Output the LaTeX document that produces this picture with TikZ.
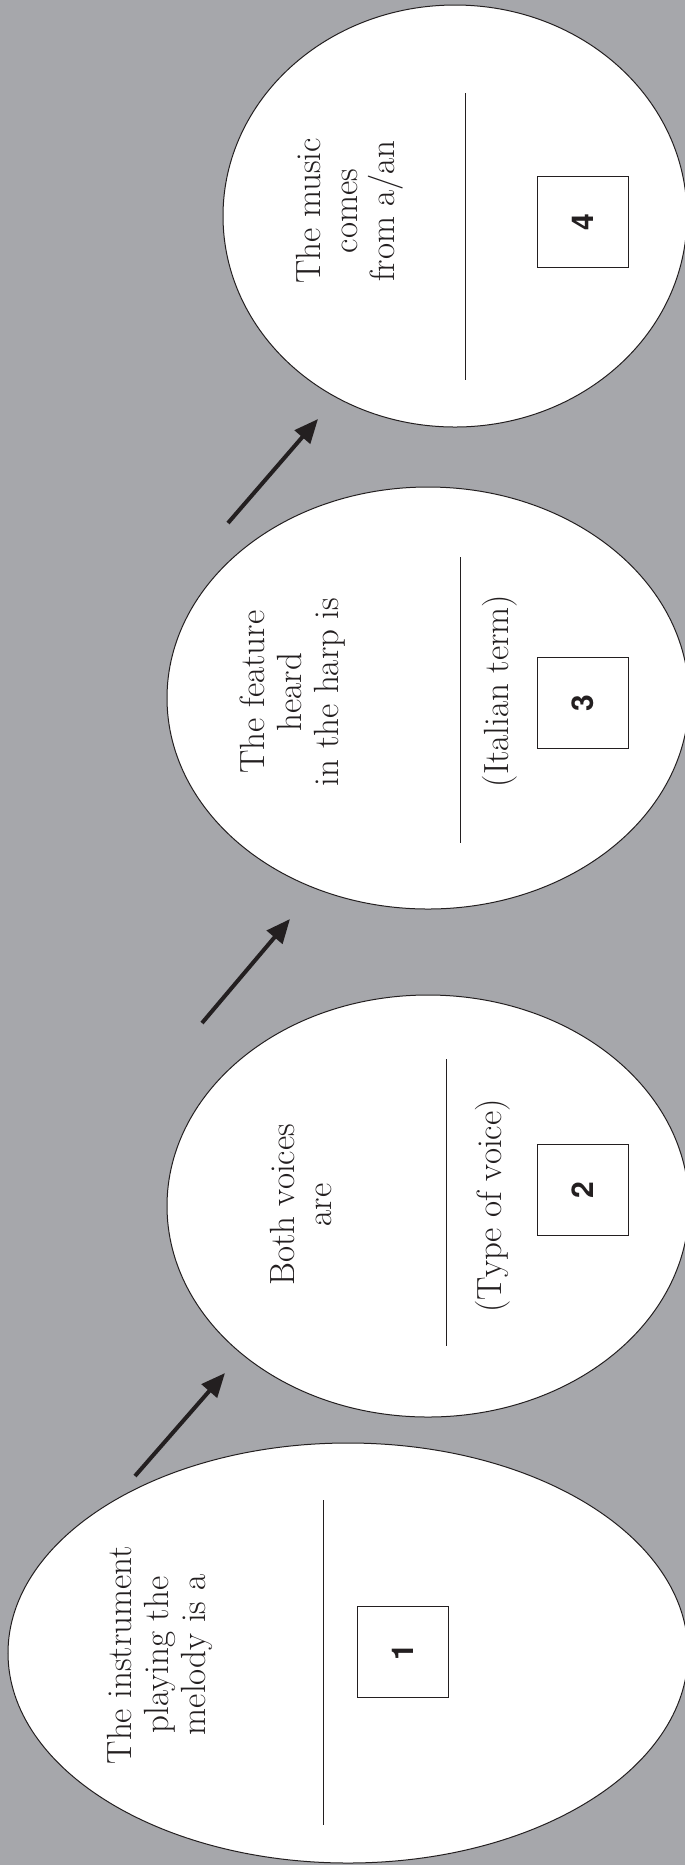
\documentclass[tikz,border=0pt]{standalone}
\usepackage{fontspec}
\usepackage{tikz}
\usetikzlibrary{arrows.meta,positioning,shapes.geometric}
\newfontfamily\digitfont{TeX Gyre Heros}
\definecolor{cBg}{HTML}{A6A7AB}
\definecolor{cK}{HTML}{231F20}
\tikzset{
  bubble/.style={ellipse,draw=cK,fill=white,line width=0.5pt,inner sep=0pt},
  prompt/.style={rotate=90,align=center,text=cK,inner sep=0pt,
              font=\fontsize{17.5}{18.5}\selectfont},
  ansbox/.style={draw=cK,fill=white,line width=0.6pt,minimum size=45.5pt,
              inner sep=0pt,rotate=90,text=cK,
              font=\digitfont\bfseries\fontsize{15}{15}\selectfont},
  divider/.style={draw=cK,line width=0.5pt},
  flowarrow/.style={-{Triangle[length=12pt,width=10pt]},line width=2pt,cK},
}
\begin{document}
\begin{tikzpicture}[x=0.5pt,y=-0.5pt]
  \useasboundingbox (0,0) rectangle (685,1865);
  \clip (0,0) rectangle (685,1865);
  \fill[cBg] (0,0) rectangle (685,1865);
  % the four bubbles
  \node[bubble,minimum width=340pt,minimum height=210pt] (e1) at (348,1653) {};
  \node[bubble,minimum width=261pt,minimum height=211pt] (e2) at (428,1206) {};
  \node[bubble,minimum width=261pt,minimum height=211pt] (e3) at (428,698) {};
  \node[bubble,minimum width=232pt,minimum height=211pt] (e4) at (455,216) {};
  % bubble 1
  \node[prompt] (t1) at (160,1655) {The instrument\\playing the\\melody is a};
  \draw[divider] (323,1500) -- (323,1825);
  \node[ansbox] (b1) at (403,1652) {1};
  % bubble 2
  \node[prompt] (t2) at (301,1205) {Both voices\\are};
  \draw[divider] (446,1059) -- (446,1346);
  \node[prompt] (h2) at (493,1206) {(Type of voice)};
  \node[ansbox] (b2) at (583,1190) {2};
  % bubble 3
  \node[prompt] (t3) at (293,692) {The feature\\heard\\in the harp is};
  \draw[divider] (460,557) -- (460,843);
  \node[prompt] (h3) at (500,691) {(Italian term)};
  \node[ansbox] (b3) at (583,703) {3};
  % bubble 4
  \node[prompt] (t4) at (350,211) {The music\\comes\\from a/an};
  \draw[divider] (465,93) -- (465,380);
  \node[ansbox] (b4) at (583,222) {4};
  % arrows between bubbles
  \coordinate (a1s) at (135,1476); \coordinate (a1e) at (225,1373);
  \coordinate (a2s) at (202,1023); \coordinate (a2e) at (290,919);
  \coordinate (a3s) at (228,523);  \coordinate (a3e) at (318,419);
  \draw[flowarrow](a1s)--(a1e);\draw[flowarrow](a2s)--(a2e);
  \draw[flowarrow](a3s)--(a3e);
\end{tikzpicture}
\end{document}
